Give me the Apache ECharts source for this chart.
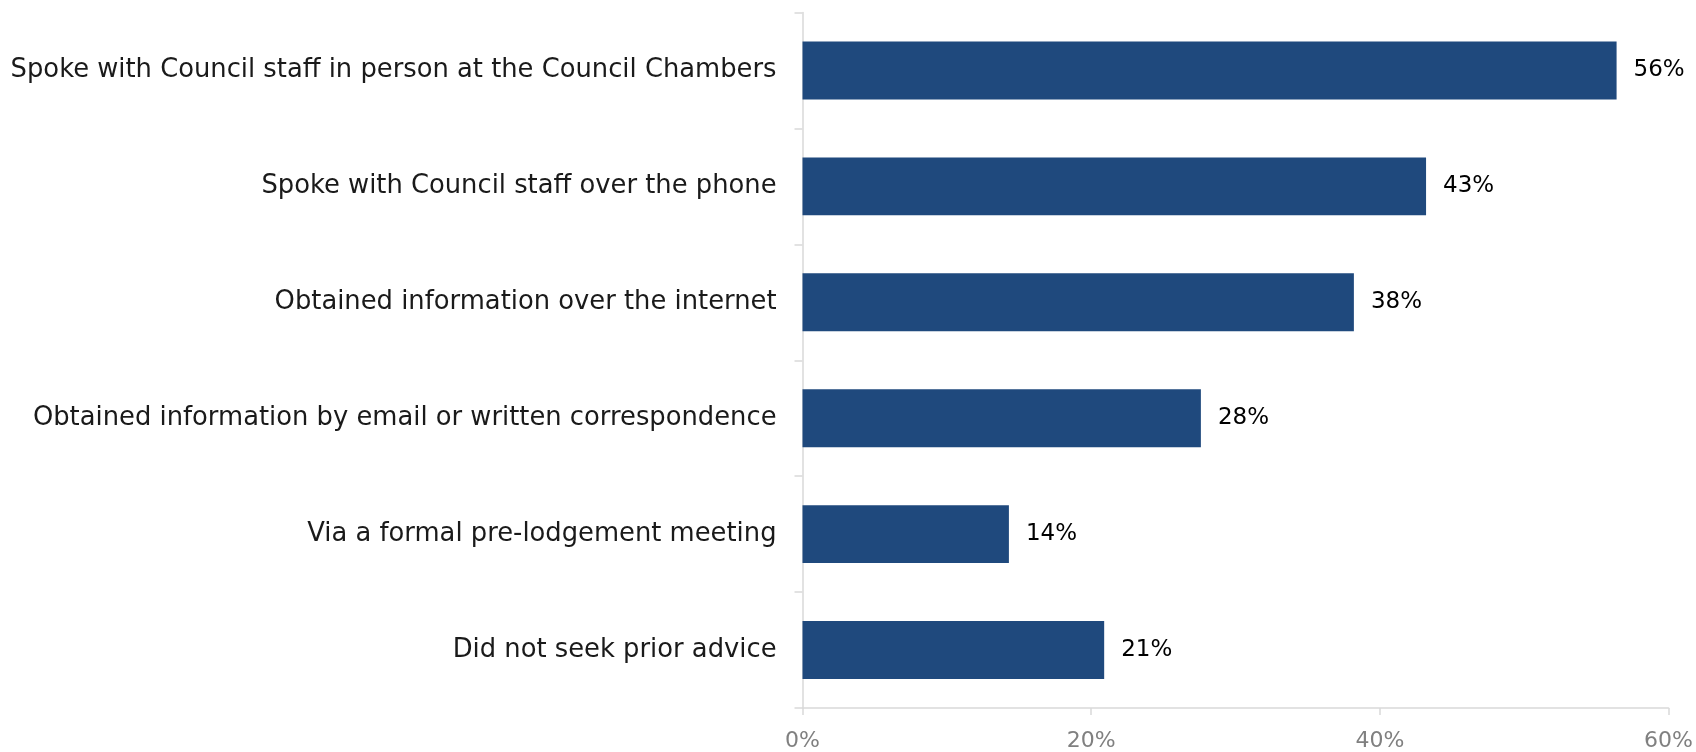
<!DOCTYPE html>
<html>
<head>
<meta charset="utf-8">
<script src="https://cdn.jsdelivr.net/npm/echarts@6/dist/echarts.min.js"></script>
<style>
html,body{margin:0;padding:0;background:#fff;}
#chart{width:1696px;height:752px;}
</style>
</head>
<body>
<div id="chart"></div>
<script>
const categories = [
  "Spoke with Council staff in person at the Council Chambers",
  "Spoke with Council staff over the phone",
  "Obtained information over the internet",
  "Obtained information by email or written correspondence",
  "Via a formal pre-lodgement meeting",
  "Did not seek prior advice"
];
const values = [56.4, 43.2, 38.2, 27.6, 14.3, 20.9];
const xTicks = { min: 0, max: 60, interval: 20 };

const FONT = "DejaVu Sans";
const chart = echarts.init(document.getElementById('chart'), null, { renderer: 'canvas' });
chart.setOption({
  animation: false,
  backgroundColor: '#ffffff',
  grid: { left: 802.5, right: 26.5, top: 12.5, bottom: 40, containLabel: false },
  xAxis: {
    type: 'value',
    min: xTicks.min, max: xTicks.max, interval: xTicks.interval,
    axisLine: { show: true, lineStyle: { color: '#d9d9d9', width: 1.5 } },
    axisTick: { show: true, length: 7, lineStyle: { color: '#d9d9d9', width: 1.5 } },
    splitLine: { show: false },
    axisLabel: { formatter: '{value}%', color: '#808080', fontFamily: FONT, fontSize: 22, margin: 22 }
  },
  yAxis: {
    type: 'category',
    data: categories,
    inverse: true,
    axisLine: { show: true, lineStyle: { color: '#d9d9d9', width: 1.5 } },
    axisTick: { show: true, length: 8, alignWithLabel: false, lineStyle: { color: '#d9d9d9', width: 1.5 } },
    axisLabel: { color: '#1a1a1a', fontFamily: FONT, fontSize: 25.8, margin: 26 }
  },
  series: [{
    type: 'bar',
    data: values,
    barWidth: '50%',
    itemStyle: { color: '#1F497D' },
    label: {
      show: true, position: 'right', distance: 17,
      formatter: p => Math.round(p.value) + '%',
      color: '#000', fontFamily: FONT, fontSize: 23
    }
  }]
});
</script>
</body>
</html>
